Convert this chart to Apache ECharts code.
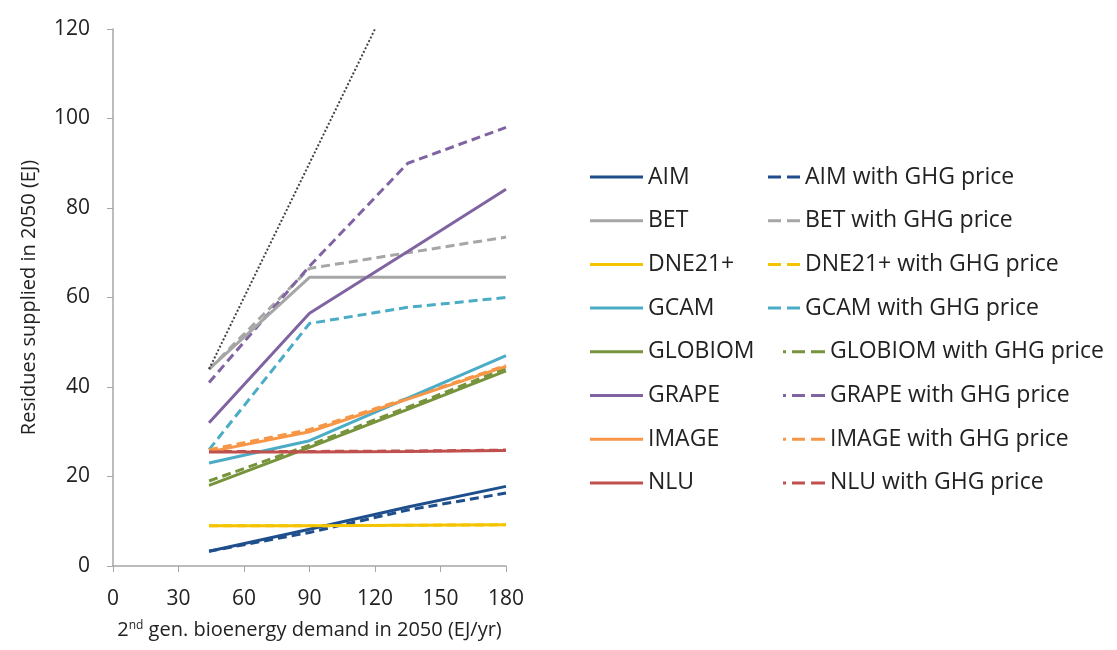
<!DOCTYPE html>
<html>
<head>
<meta charset="utf-8">
<script src="https://cdn.jsdelivr.net/npm/echarts@6/dist/echarts.min.js"></script>
<style>
  html, body { margin: 0; padding: 0; background: #fff; }
  #main { width: 1117px; height: 650px; }
</style>
</head>
<body>
<div id="main"></div>
<script>
// demand points (EJ/yr)
var demand = [44, 90, 135, 180];
var models = ['AIM', 'BET', 'DNE21+', 'GCAM', 'GLOBIOM', 'GRAPE', 'IMAGE', 'NLU'];
var colors = ['#1f4e8c', '#a6a6a6', '#f5c400', '#4bacc6', '#77933c', '#8064a2', '#f79646', '#c0504d'];

// residues supplied (EJ), no GHG price
var base = [
    [3.3, 8.2, 13.2, 17.8],
    [44, 64.5, 64.5, 64.5],
    [9, 9, 9.1, 9.2],
    [23, 28, 37.5, 47],
    [18, 26.5, 35, 43.6],
    [32, 56.5, 70.3, 84.2],
    [25.5, 30, 37.3, 44.6],
    [25.5, 25.5, 25.6, 25.8]
];
// residues supplied (EJ), with GHG price
var ghg = [
    [3.3, 7.5, 12.5, 16.3],
    [44, 66.5, 70, 73.5],
    [9, 9, 9.1, 9.2],
    [26, 54.2, 57.8, 60],
    [19, 27, 35.5, 44.2],
    [41, 67, 90, 98],
    [26, 30.5, 37.5, 44.8],
    [25.6, 25.6, 25.7, 25.9]
];
// 1:1 reference line
var refX = [44, 120];
var refY = [44, 120];

var font = 'Open Sans';
var ghgNames = models.map(function (m) { return m + ' with GHG price'; });

function pairs(xs, ys) {
    return xs.map(function (x, i) { return [x, ys[i]]; });
}

var series = [];
models.forEach(function (m, i) {
    series.push({
        name: ghgNames[i], type: 'line', symbol: 'none', z: 2,
        lineStyle: { color: colors[i], width: 3, type: [9, 5] },
        itemStyle: { color: colors[i] },
        data: pairs(demand, ghg[i])
    });
});
models.forEach(function (m, i) {
    series.push({
        name: m, type: 'line', symbol: 'none', z: 3,
        lineStyle: { color: colors[i], width: 3 },
        itemStyle: { color: colors[i] },
        data: pairs(demand, base[i])
    });
});
series.push({
    name: '1:1', type: 'line', symbol: 'none', z: 4,
    lineStyle: { color: '#444', width: 2, type: 'dotted' },
    data: pairs(refX, refY)
});

// legend icons
var solidIcon = 'path://M0,0H53V3H0Z';
var dashIcon = 'path://M0,0H13V3H0Z M19,0H32V3H19Z';
var dotDashIcon = 'path://M0,0H3V3H0Z M9,0H22V3H9Z M28,0H42V3H28Z';

var legendText = { fontFamily: font, fontSize: 23, color: '#222' };
var rowGap = 20.7;

var myChart = echarts.init(document.getElementById('main'));
var option = {
    animation: false,
    grid: { left: 113, right: 611, top: 29, bottom: 84 },
    legend: [{
        orient: 'vertical', left: 585, top: 160.5,
        itemWidth: 53, itemHeight: 3, itemGap: rowGap,
        data: models.map(function (m) { return { name: m, icon: solidIcon }; }),
        textStyle: legendText
    }, {
        orient: 'vertical', left: 763, top: 160.5,
        itemWidth: 32, itemHeight: 3, itemGap: rowGap,
        data: ghgNames.slice(0, 4).map(function (m) { return { name: m, icon: dashIcon }; }),
        textStyle: legendText
    }, {
        orient: 'vertical', left: 778, top: 335.3,
        itemWidth: 42, itemHeight: 3, itemGap: rowGap,
        data: ghgNames.slice(4).map(function (m) { return { name: m, icon: dotDashIcon }; }),
        textStyle: legendText
    }],
    xAxis: {
        type: 'value', min: 0, max: 180, interval: 30,
        name: '{a|2}{sup|nd}{a| gen. bioenergy demand in 2050 (EJ/yr)}',
        nameLocation: 'middle', nameGap: 54,
        nameTextStyle: {
            rich: {
                a: { fontFamily: font, fontSize: 20, color: '#222' },
                sup: { fontFamily: font, fontSize: 12, color: '#222', verticalAlign: 'top', padding: [0, 0, 8, 0] }
            }
        },
        axisLine: { lineStyle: { color: '#a6a6a6', width: 1.5 } },
        axisTick: { length: 6, lineStyle: { color: '#a6a6a6' } },
        axisLabel: { fontFamily: font, fontSize: 21, color: '#222', margin: 23 },
        splitLine: { show: false }
    },
    yAxis: {
        type: 'value', min: 0, max: 120, interval: 20,
        name: 'Residues supplied in 2050 (EJ)',
        nameLocation: 'middle', nameGap: 74,
        nameTextStyle: { fontFamily: font, fontSize: 20, color: '#222' },
        axisLine: { show: true, lineStyle: { color: '#a6a6a6', width: 1.5 } },
        axisTick: { show: true, length: 6, lineStyle: { color: '#a6a6a6' } },
        axisLabel: { fontFamily: font, fontSize: 21, color: '#222', margin: 23 },
        splitLine: { show: false }
    },
    series: series
};
myChart.setOption(option);
</script>
</body>
</html>
